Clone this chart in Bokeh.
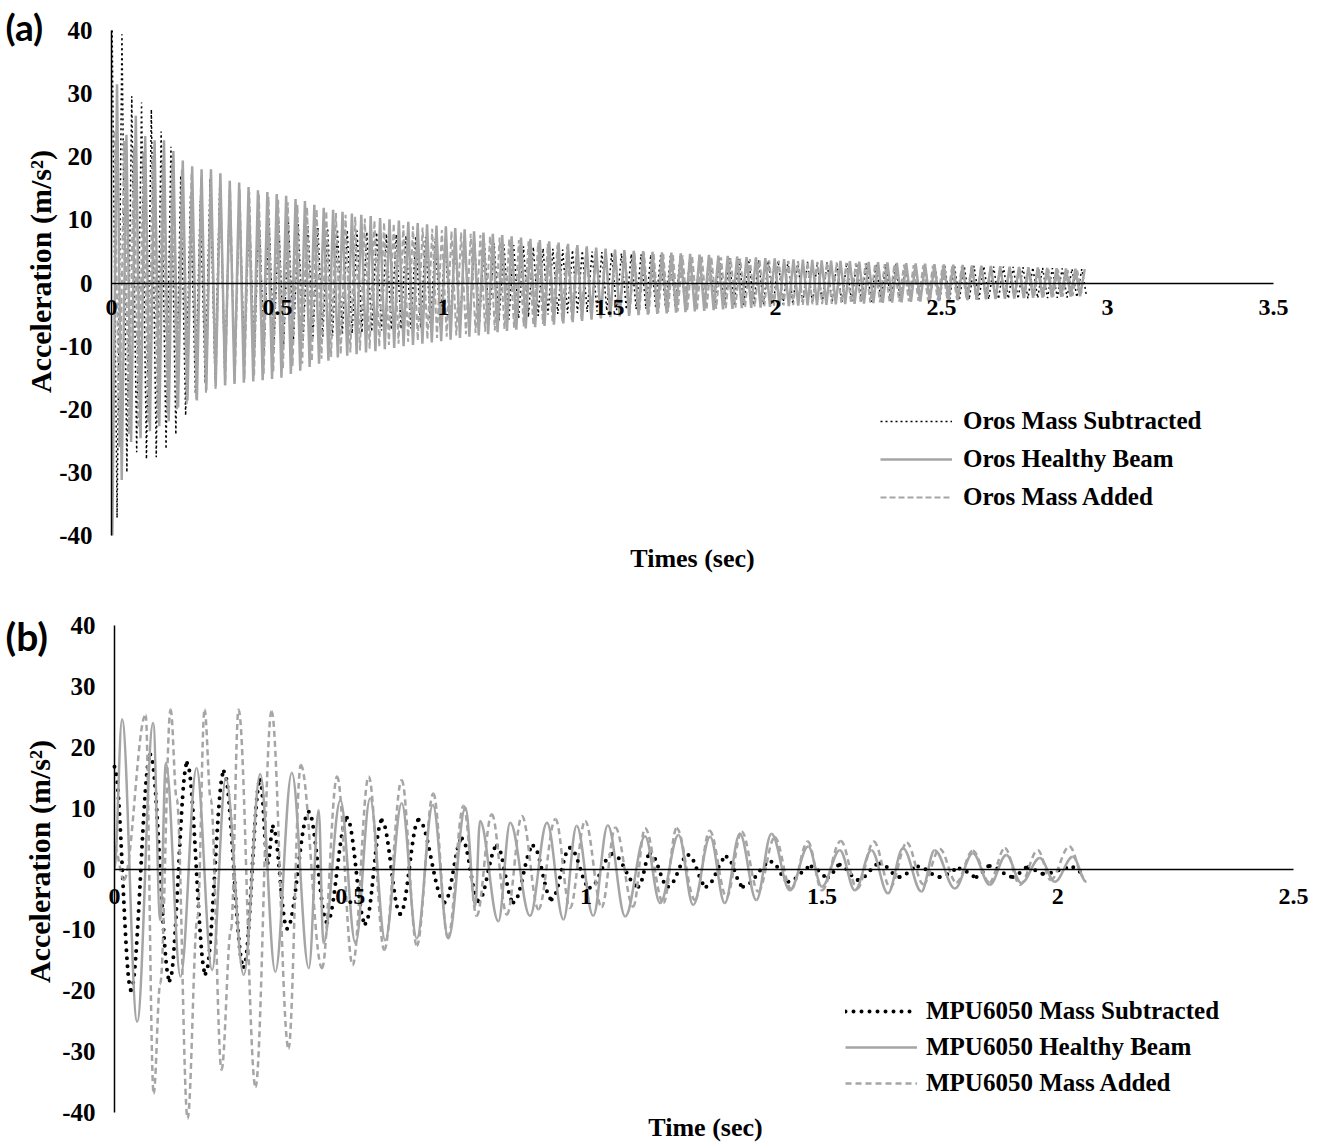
import math
import numpy as np
from bokeh.plotting import figure
from bokeh.models import Range1d, FixedTicker, Legend, LegendItem, Label, ColumnDataSource
from bokeh.layouts import column
from bokeh.embed import file_html
from bokeh.resources import INLINE

# ---------------- shared axis data ----------------
Y_TICKS = [-40, -30, -20, -10, 0, 10, 20, 30, 40]
Y_LABELS = ["-40", "-30", "-20", "-10", "0", "10", "20", "30", "40"]
Y_TITLE = "Acceleration (m/s²)"

# ---------------- panel (a): Oros ----------------
A_X_TICKS = [0, 0.5, 1, 1.5, 2, 2.5, 3, 3.5]
A_X_LABELS = ["0", "0.5", "1", "1.5", "2", "2.5", "3", "3.5"]
A_X_TITLE = "Times (sec)"
A_NAMES = ["Oros Mass Subtracted", "Oros Healthy Beam", "Oros Mass Added"]

# oscillation timing (s): first peak, first trough, period
A_SUB_TIMING = (0.002, 0.0168, 0.0295)
A_HEA_TIMING = (0.0166, 0.0025, 0.0283)
A_ADD_TIMING = (0.009, 0.0235, 0.0290)

# peak / trough value of every cycle (m/s^2)
A_SUB_PEAKS = [40.0, 39.4, 29.6, 28.6, 27.5, 24.0, 21.6, 17.0, 14.0, 13.0, 16.5, 16.6, 15.0,
               13.5, 12.2, 11.0, 10.5, 10.0, 9.6, 9.3, 9.0,
               8.8, 8.7, 8.5, 8.4, 8.3, 8.1, 8.0,
               7.8, 7.7, 7.5, 7.4, 7.3, 7.1, 7.0,
               6.8, 6.7, 6.5, 6.4, 6.3, 6.1, 6.0,
               5.8, 5.7, 5.5, 5.4, 5.3, 5.2, 5.1, 5.0, 4.9, 4.8,
               4.7, 4.6, 4.55, 4.5, 4.4, 4.3, 4.25, 4.2, 4.1, 4.0, 3.95, 3.9, 3.8, 3.7, 3.65, 3.6, 3.5,
               3.45, 3.4, 3.35, 3.3, 3.3, 3.25, 3.2, 3.15, 3.1, 3.05, 3.0, 3.0, 2.95, 2.9, 2.9, 2.85, 2.8,
               2.75, 2.7, 2.7, 2.65, 2.6, 2.6, 2.55, 2.5, 2.45, 2.4, 2.35, 2.3, 2.25, 2.2]
A_SUB_TROUGHS = [-37.2, -30.0, -26.8, -27.9, -27.6, -26.3, -24.0, -21.0, -17.5, -15.9, -15.1, -14.8, -13.7,
                 -12.8, -12.0, -11.0, -10.4, -9.8, -9.4, -9.1, -8.8,
                 -8.6, -8.4, -8.2, -8.0, -7.9, -7.7, -7.5,
                 -7.4, -7.3, -7.2, -7.1, -7.0, -7.0, -6.9,
                 -6.7, -6.5, -6.3, -6.1, -6.0, -5.8, -5.6,
                 -5.4, -5.2, -5.0, -4.9, -4.8, -4.7, -4.6, -4.5, -4.4, -4.3,
                 -4.2, -4.15, -4.1, -4.0, -3.95, -3.9, -3.85, -3.8, -3.75, -3.7, -3.65, -3.6, -3.55, -3.5, -3.45, -3.4, -3.4,
                 -3.35, -3.3, -3.25, -3.2, -3.15, -3.1, -3.05, -3.0, -3.0, -2.95, -2.9, -2.9, -2.85, -2.8, -2.8, -2.75, -2.7,
                 -2.7, -2.65, -2.6, -2.6, -2.55, -2.5, -2.5, -2.45, -2.4, -2.4, -2.35, -2.3, -2.25, -2.2]

A_HEA_PEAKS = [31.5, 23.5, 26.5, 23.3, 22.6, 22.6, 20.9, 19.4, 18.5, 18.0, 18.0, 17.4, 16.2, 15.9, 15.2,
               14.7, 14.4, 14.1, 13.8, 13.3, 13.0, 12.4, 11.9,
               11.6, 11.3, 11.0, 10.8, 10.6, 10.3, 10.1, 9.9, 9.7, 9.5, 9.3, 9.1, 9.0, 8.7, 8.5, 8.2, 8.0, 7.8, 7.6,
               7.4, 7.2, 7.0, 6.8, 6.6, 6.4, 6.2, 6.0, 5.8, 5.6, 5.45, 5.3,
               5.2, 5.1, 5.05, 4.95, 4.85, 4.8, 4.7, 4.6, 4.5, 4.45, 4.35, 4.3, 4.2, 4.1, 4.05, 3.95, 3.9, 3.8, 3.75,
               3.7, 3.65, 3.6, 3.55, 3.5, 3.45, 3.4, 3.35, 3.3, 3.25, 3.2, 3.15, 3.1, 3.05, 3.0, 2.95,
               2.9, 2.85, 2.8, 2.75, 2.7, 2.65, 2.6, 2.55, 2.5, 2.45, 2.4, 2.35, 2.3, 2.25, 2.2]
A_HEA_TROUGHS = [-40.0, -31.2, -25.2, -24.6, -23.5, -22.7, -21.9, -19.7, -18.6, -18.6,
                 -17.0, -16.4, -16.2, -16.0, -15.8, -15.6, -15.4, -15.2, -15.0, -14.4,
                 -13.9, -13.3, -12.8, -12.3, -11.8, -11.5, -11.3, -11.0, -10.8, -10.5,
                 -10.3, -10.0, -9.8, -9.6, -9.4, -9.2, -9.0, -8.7, -8.5, -8.3,
                 -8.1, -7.8, -7.6, -7.4, -7.2, -7.0, -6.8, -6.6, -6.4, -6.2,
                 -6.0, -5.8, -5.6, -5.4, -5.3, -5.2, -5.1, -5.0, -4.9, -4.8,
                 -4.7, -4.6, -4.5, -4.4, -4.3, -4.2, -4.1, -4.0, -3.95, -3.9,
                 -3.8, -3.7, -3.65, -3.6, -3.55, -3.5, -3.45, -3.4, -3.35, -3.3,
                 -3.25, -3.2, -3.15, -3.1, -3.05, -3.0, -2.95, -2.9, -2.85, -2.8,
                 -2.75, -2.7, -2.65, -2.6, -2.55, -2.5, -2.45, -2.4, -2.35, -2.3,
                 -2.25, -2.2, -2.15, -2.1]

A_ADD_PEAKS = [24.0, 22.5, 21.5, 20.8, 20.2, 19.5, 19.0, 18.2, 17.5, 16.8, 16.0,
               15.6, 15.2, 14.8, 14.4, 14.0, 13.6, 13.2, 12.8, 12.4, 12.0,
               11.7, 11.4, 11.1, 10.8, 10.5, 10.2, 9.9,
               9.6, 9.4, 9.2, 9.0, 8.8, 8.6, 8.4,
               8.2, 8.0, 7.8, 7.6, 7.4, 7.2, 7.0,
               6.8, 6.6, 6.4, 6.2, 6.0, 5.8, 5.6, 5.5, 5.4, 5.2,
               5.1, 5.0, 4.9, 4.8, 4.7, 4.6, 4.5, 4.4, 4.3, 4.25, 4.15, 4.05, 3.95, 3.85, 3.8, 3.7, 3.6,
               3.55, 3.5, 3.45, 3.4, 3.35, 3.3, 3.25, 3.2, 3.15, 3.1, 3.05, 3.0, 2.95, 2.9, 2.85, 2.8, 2.75, 2.7,
               2.65, 2.6, 2.55, 2.5, 2.45, 2.4, 2.35, 2.3, 2.25, 2.2, 2.15, 2.1, 2.05, 2.0]
A_ADD_TROUGHS = [-26.0, -24.0, -23.0, -22.2, -21.5, -20.8, -20.0, -19.2, -18.4, -17.6, -16.8,
                 -16.2, -15.7, -15.2, -14.8, -14.4, -14.0, -13.6, -13.2, -12.8, -12.4,
                 -12.0, -11.7, -11.3, -11.0, -10.7, -10.4, -10.1,
                 -9.8, -9.6, -9.3, -9.1, -8.9, -8.7, -8.5,
                 -8.3, -8.1, -7.9, -7.7, -7.5, -7.3, -7.1,
                 -6.9, -6.7, -6.5, -6.3, -6.1, -5.9, -5.7, -5.5, -5.4, -5.2,
                 -5.1, -5.0, -4.9, -4.8, -4.7, -4.6, -4.5, -4.4, -4.3, -4.2, -4.1, -4.0, -3.9, -3.8, -3.75, -3.65, -3.6,
                 -3.55, -3.5, -3.45, -3.4, -3.35, -3.3, -3.25, -3.2, -3.15, -3.1, -3.05, -3.0, -2.95, -2.9, -2.85, -2.8, -2.75, -2.7,
                 -2.65, -2.6, -2.55, -2.5, -2.45, -2.4, -2.35, -2.3, -2.25, -2.2, -2.15, -2.1, -2.05, -2.0]

# ---------------- panel (b): MPU6050 ----------------
B_X_TICKS = [0, 0.5, 1, 1.5, 2, 2.5]
B_X_LABELS = ["0", "0.5", "1", "1.5", "2", "2.5"]
B_X_TITLE = "Time (sec)"
B_NAMES = ["MPU6050 Mass Subtracted", "MPU6050 Healthy Beam", "MPU6050 Mass Added"]

# turning points (time s, acceleration m/s^2)
B_SUB_T = [0.000, 0.035, 0.076, 0.117, 0.154, 0.193, 0.232, 0.274, 0.309, 0.325, 0.336, 0.366, 0.412, 0.451,
           0.493, 0.532, 0.567, 0.606, 0.645, 0.700, 0.737, 0.772, 0.811, 0.846, 0.888, 0.927, 0.966, 1.008,
           1.056, 1.111, 1.136, 1.174, 1.217, 1.255, 1.298, 1.333, 1.393, 1.429, 1.478, 1.513, 1.538, 1.577,
           1.623, 1.665, 1.704, 1.750, 1.792, 1.828, 1.856, 1.905, 1.937, 1.969, 2.033, 2.050]
B_SUB_V = [16.8, -19.9, 18.8, -18.3, 17.4, -17.2, 16.0, -16.1, 14.6, 1.0, 7.0, -9.8, 9.4, -8.8,
           8.4, -9.0, 8.0, -7.4, 8.1, -5.5, 5.0, -5.3, 3.8, -5.5, 3.8, -5.0, 3.5, -3.1,
           2.5, -2.9, 2.6, -2.9, 2.3, -2.9, 2.0, -2.9, 1.2, -2.1, 0.4, -1.4, 0.7, -1.8,
           0.9, -1.3, 0.4, -1.3, 0.1, -1.3, 0.5, -1.3, 0.3, -0.8, 0.3, -0.5]

B_HEA_T = [0.000, 0.016, 0.048, 0.082, 0.097, 0.109, 0.140, 0.174, 0.207, 0.236, 0.274, 0.309, 0.341, 0.376,
           0.412, 0.433, 0.443, 0.479, 0.511, 0.542, 0.574, 0.609, 0.641, 0.675, 0.708, 0.744, 0.765, 0.775,
           0.814, 0.839, 0.881, 0.917, 0.952, 0.980, 1.015, 1.046, 1.083, 1.125, 1.157, 1.196, 1.227, 1.263,
           1.294, 1.326, 1.361, 1.393, 1.432, 1.471, 1.500, 1.538, 1.570, 1.605, 1.640, 1.672, 1.711, 1.739,
           1.782, 1.820, 1.856, 1.891, 1.923, 1.962, 1.994, 2.032, 2.061]
B_HEA_V = [0.0, 24.6, -25.1, 24.0, -8.4, 17.4, -17.7, 16.6, -16.6, 14.9, -17.4, 15.6, -16.9, 15.8,
           -16.3, 9.7, -12.2, 11.3, -12.2, 11.6, -11.7, 10.8, -11.4, 10.5, -11.4, 10.1, -6.1, 7.9,
           -8.6, 7.6, -7.7, 7.6, -8.3, 7.1, -7.7, 7.2, -7.8, 5.4, -5.6, 5.6, -5.9, 5.3,
           -5.6, 5.8, -5.1, 5.8, -3.5, 3.7, -2.9, 3.1, -3.5, 3.1, -4.0, 3.4, -3.7, 3.1,
           -3.2, 2.6, -2.6, 2.3, -2.3, 1.8, -2.1, 2.0, -2.1]

B_ADD_T = [0.000, 0.020, 0.066, 0.083, 0.097, 0.119, 0.132, 0.155, 0.176, 0.191, 0.204, 0.227, 0.247, 0.263,
           0.299, 0.333, 0.369, 0.395, 0.440, 0.472, 0.505, 0.539, 0.572, 0.609, 0.641, 0.676, 0.707, 0.740,
           0.768, 0.800, 0.832, 0.864, 0.899, 0.935, 0.966, 0.998, 1.033, 1.062, 1.100, 1.125, 1.164, 1.192,
           1.231, 1.262, 1.298, 1.330, 1.365, 1.400, 1.435, 1.470, 1.500, 1.540, 1.575, 1.610, 1.645, 1.680,
           1.715, 1.750, 1.785, 1.820, 1.855, 1.888, 1.920, 1.958, 1.985, 2.025, 2.055]
B_ADD_V = [3.7, -1.8, 25.3, -36.9, -18.8, 26.2, 11.5, -41.0, -8.0, 26.2, 11.5, -33.0, -10.0, 26.2,
           -35.8, 25.9, -29.5, 17.1, -16.3, 15.2, -15.8, 15.2, -13.3, 14.6, -12.6, 12.4, -11.3, 10.4,
           -7.7, 9.0, -7.5, 8.7, -6.6, 8.2, -6.4, 7.9, -6.3, 6.8, -6.2, 6.7, -5.6, 6.7,
           -5.1, 6.3, -4.6, 6.1, -3.7, 5.2, -3.3, 4.5, -3.5, 4.6, -3.2, 4.5, -3.0, 4.3,
           -2.5, 3.3, -2.2, 3.0, -2.2, 3.4, -2.6, 3.1, -1.8, 3.7, -1.3]

# ---------------- styles / geometry ----------------
GRAY = "#a5a5a5"
SERIF = "Liberation Serif"
W = 1327
A_H, B_H = 585, 558


class Geo:
    """pixel geometry of a panel: where x=0 / y=+40 sit and px per unit"""
    def __init__(self, left, top, pxx, pxy, h):
        self.left, self.top, self.pxx, self.pxy, self.h = left, top, pxx, pxy, h

    def x(self, px):
        return (px - self.left) / self.pxx

    def y(self, py):
        return 40 - (py - self.top) / self.pxy


GA = Geo(111, 30, 1162 / 3.5, 505 / 80, A_H)
GB = Geo(114, 40, 1179 / 2.5, 487 / 80, B_H)


def cycles(timing, peaks, troughs):
    tp, tt, per = timing
    t = [tp + k * per for k in range(len(peaks))] + [tt + k * per for k in range(len(troughs))]
    v = list(peaks) + list(troughs)
    order = np.argsort(t)
    return np.array(t)[order], np.array(v)[order]


def make_fig(g, h):
    p = figure(width=W, height=h,
               x_range=Range1d(g.x(0), g.x(W)), y_range=Range1d(g.y(h), g.y(0)),
               output_backend="svg", toolbar_location=None, min_border=0,
               outline_line_color=None, background_fill_color="white", border_fill_color="white")
    p.grid.visible = False
    return p


def style_axes(p, xticks, xlabels, xmax, x_standoff):
    xa = p.xaxis[0]
    xa.fixed_location = 0
    xa.bounds = (0, xmax)
    xa.ticker = FixedTicker(ticks=xticks)
    xa.major_label_overrides = dict(zip(xticks, xlabels))
    xa.major_tick_line_color = None
    xa.minor_tick_line_color = None
    xa.major_tick_out = 0
    xa.major_tick_in = 0
    xa.axis_line_color = "black"
    xa.axis_line_width = 1.5
    xa.major_label_text_font = SERIF
    xa.major_label_text_font_style = "bold"
    xa.major_label_text_font_size = "24px"
    xa.major_label_text_color = "black"
    xa.major_label_standoff = x_standoff

    ya = p.yaxis[0]
    ya.fixed_location = 0
    ya.bounds = (-40, 40)
    ya.ticker = FixedTicker(ticks=Y_TICKS)
    ya.major_label_overrides = dict(zip(Y_TICKS, Y_LABELS))
    ya.major_tick_line_color = None
    ya.minor_tick_line_color = None
    ya.major_tick_out = 0
    ya.major_tick_in = 0
    ya.axis_line_color = "black"
    ya.axis_line_width = 1.5
    ya.major_label_text_font = SERIF
    ya.major_label_text_font_style = "bold"
    ya.major_label_text_font_size = "25px"
    ya.major_label_text_color = "black"
    ya.major_label_standoff = 19


def data_label(p, x, y, text, font, size, align, angle=0.0):
    p.add_layout(Label(x=x, y=y, text=text, angle=angle,
                       text_font=font, text_font_style="bold", text_font_size=size,
                       text_align=align, text_baseline="middle", text_color="black"))


def make_legend(items, loc, row_h, glyph_w, standoff):
    return Legend(items=items, location=loc, orientation="vertical",
                  glyph_width=glyph_w, glyph_height=row_h, label_height=row_h,
                  label_standoff=standoff, spacing=8, padding=0, margin=0,
                  border_line_color=None, background_fill_alpha=0,
                  label_text_font=SERIF, label_text_font_style="bold",
                  label_text_font_size="25px", label_text_color="black")


# ---------------- figure (a) ----------------
pa = make_fig(GA, A_H)
style_axes(pa, A_X_TICKS, A_X_LABELS, 3.5, 17)

t, v = cycles(A_SUB_TIMING, A_SUB_PEAKS, A_SUB_TROUGHS)
ra1 = pa.line(t, v, line_color="black", line_width=1.5, line_dash="2 3")
t, v = cycles(A_HEA_TIMING, A_HEA_PEAKS, A_HEA_TROUGHS)
ra2 = pa.line(t, v, line_color=GRAY, line_width=2.5)
t, v = cycles(A_ADD_TIMING, A_ADD_PEAKS, A_ADD_TROUGHS)
ra3 = pa.line(t, v, line_color=GRAY, line_width=2, line_dash="6 3")

pa.add_layout(make_legend([LegendItem(label=A_NAMES[0], renderers=[ra1]),
                           LegendItem(label=A_NAMES[1], renderers=[ra2]),
                           LegendItem(label=A_NAMES[2], renderers=[ra3])],
                          (880, A_H - 512), 30, 72, 11))
data_label(pa, GA.x(5), GA.y(26), "(a)", "Lato", "37px", "left")
data_label(pa, GA.x(692), GA.y(558), A_X_TITLE, SERIF, "26px", "center")
data_label(pa, GA.x(40), GA.y(271), Y_TITLE, SERIF, "30px", "center", math.pi / 2)

# ---------------- figure (b) ----------------
pb = make_fig(GB, B_H)
style_axes(pb, B_X_TICKS, B_X_LABELS, 2.5, 20)


def smooth(p, ts, vs, **kw):
    ts = np.asarray(ts, float)
    vs = np.asarray(vs, float)
    dt = ts[1:] - ts[:-1]
    src = ColumnDataSource(dict(x0=ts[:-1], y0=vs[:-1], x1=ts[1:], y1=vs[1:],
                                cx0=ts[:-1] + 0.364 * dt, cy0=vs[:-1],
                                cx1=ts[1:] - 0.364 * dt, cy1=vs[1:]))
    return p.bezier(x0="x0", y0="y0", x1="x1", y1="y1", cx0="cx0", cy0="cy0",
                    cx1="cx1", cy1="cy1", source=src, **kw)


DOT = dict(line_color="black", line_width=4, line_dash="0 8", line_cap="round")
SOL = dict(line_color=GRAY, line_width=2.5)
DSH = dict(line_color=GRAY, line_width=2.5, line_dash="6 4")

rb1 = smooth(pb, B_SUB_T, B_SUB_V, **DOT)
rb2 = smooth(pb, B_HEA_T, B_HEA_V, **SOL)
rb3 = smooth(pb, B_ADD_T, B_ADD_V, **DSH)

pb.add_layout(make_legend([LegendItem(label=B_NAMES[0], renderers=[rb1]),
                           LegendItem(label=B_NAMES[1], renderers=[rb2]),
                           LegendItem(label=B_NAMES[2], renderers=[rb3])],
                          (845, B_H - 512), 28, 72, 9))
data_label(pb, GB.x(5), GB.y(50), "(b)", "Lato", "39px", "left")
data_label(pb, GB.x(705), GB.y(542), B_X_TITLE, SERIF, "26px", "center")
data_label(pb, GB.x(39), GB.y(276), Y_TITLE, SERIF, "30px", "center", math.pi / 2)

layout = column(pa, pb)
open("out.html", "w").write(file_html(layout, INLINE))
